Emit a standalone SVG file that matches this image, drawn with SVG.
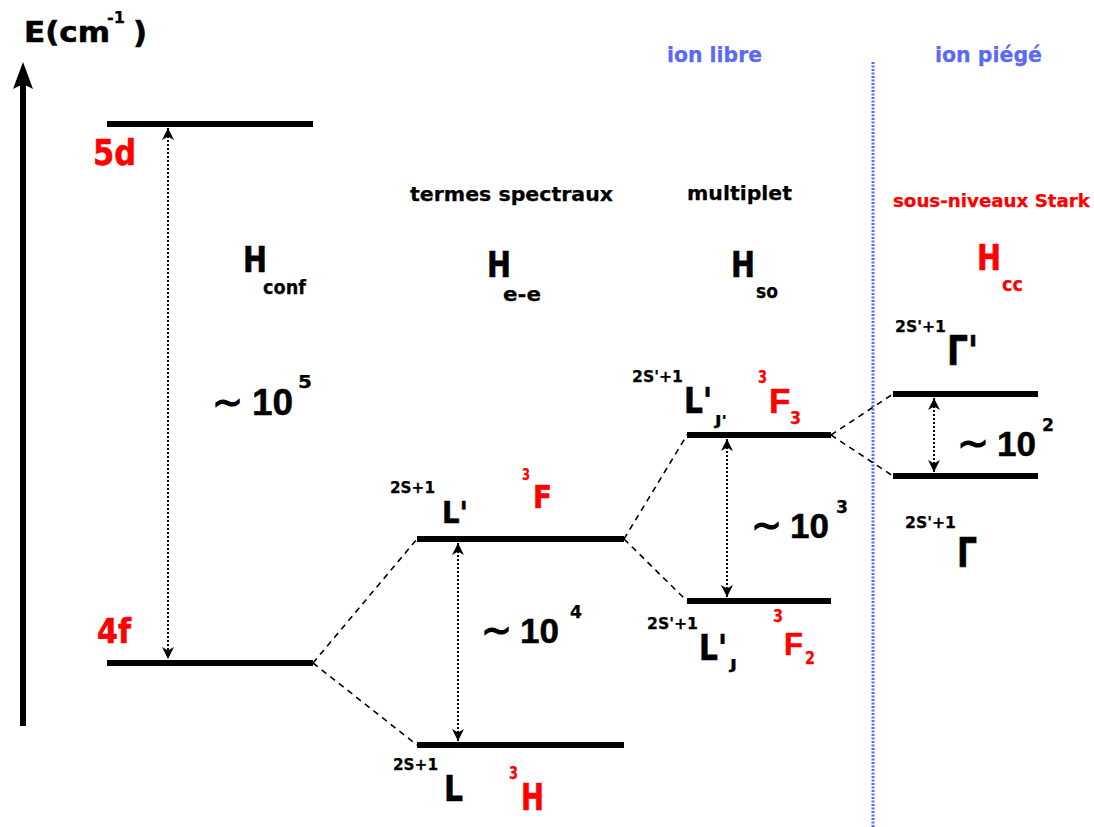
<svg xmlns="http://www.w3.org/2000/svg" width="1094" height="827" viewBox="0 0 1094 827">
<style>
text{font-family:"DejaVu Sans","Liberation Sans",sans-serif;font-weight:bold;fill:#000;stroke:#000;stroke-width:0.6}
.r{fill:#ff0000;stroke:#ff0000}
.b{fill:#5a6af5;stroke:#5a6af5}
.s{stroke-width:0.25}
.n{font-family:"Liberation Sans",Arial,sans-serif;stroke-width:0.5}
.t{font-weight:normal;stroke-width:1.2}
.lvl{stroke:#000;stroke-width:6;fill:none}
.dash{stroke:#000;stroke-width:1.6;stroke-dasharray:6 5;fill:none}
.dot{stroke:#000;stroke-width:2;stroke-dasharray:2 2;fill:none}
</style>
<defs>
<marker id="ah" viewBox="0 0 10 10" refX="10" refY="5" markerWidth="12" markerHeight="12" markerUnits="userSpaceOnUse" orient="auto-start-reverse">
<path d="M0,0 L10,5 L0,10 L3,5 z" fill="#000"/>
</marker>
</defs>
<rect width="1094" height="827" fill="#fff"/>

<g id="axis">
<line x1="23" y1="726" x2="23" y2="84" stroke="#000" stroke-width="6"/>
<path d="M23,62 L33,89 L23,84 L13,89 z" fill="#000"/>
<text x="24" y="42" font-size="29" textLength="86" lengthAdjust="spacingAndGlyphs">E(cm</text>
<text class="s" x="107" y="23" font-size="15" textLength="18" lengthAdjust="spacingAndGlyphs">-1</text>
<text x="133" y="43" font-size="30" textLength="14" lengthAdjust="spacingAndGlyphs">)</text>
</g>

<g id="separator">
<line x1="873" y1="62" x2="873" y2="827" stroke="#5a6af5" stroke-width="3" stroke-dasharray="2 1.5"/>
<text class="b s" x="667" y="62" font-size="22" textLength="95" lengthAdjust="spacingAndGlyphs">ion libre</text>
<text class="b s" x="935" y="62" font-size="22" textLength="107" lengthAdjust="spacingAndGlyphs">ion piégé</text>
</g>

<g id="connectors">
<line class="dash" x1="313" y1="663" x2="417" y2="539"/>
<line class="dash" x1="313" y1="663" x2="417" y2="745"/>
<line class="dash" x1="624" y1="539" x2="687" y2="435"/>
<line class="dash" x1="624" y1="539" x2="687" y2="601"/>
<line class="dash" x1="831" y1="435" x2="893" y2="394"/>
<line class="dash" x1="831" y1="435" x2="893" y2="476"/>
<line class="dot" x1="168" y1="128" x2="168" y2="659" marker-start="url(#ah)" marker-end="url(#ah)"/>
<line class="dot" x1="458" y1="543" x2="458" y2="741" marker-start="url(#ah)" marker-end="url(#ah)"/>
<line class="dot" x1="727" y1="439" x2="727" y2="597" marker-start="url(#ah)" marker-end="url(#ah)"/>
<line class="dot" x1="934" y1="398" x2="934" y2="472" marker-start="url(#ah)" marker-end="url(#ah)"/>
</g>

<g id="config">
<line class="lvl" x1="107" y1="124" x2="313" y2="124"/>
<line class="lvl" x1="107" y1="663" x2="313" y2="663"/>
<text class="r" x="93" y="165" font-size="36" textLength="43" lengthAdjust="spacingAndGlyphs">5d</text>
<text class="r" x="97" y="643" font-size="33" textLength="34" lengthAdjust="spacingAndGlyphs">4f</text>
<text x="243" y="272" font-size="35" textLength="24" lengthAdjust="spacingAndGlyphs">H</text>
<text class="s" x="263" y="294" font-size="20" textLength="43" lengthAdjust="spacingAndGlyphs">conf</text>
<text class="t" x="212" y="416" font-size="40" textLength="31" lengthAdjust="spacingAndGlyphs">~</text>
<text class="n" x="252" y="415" font-size="37">10</text>
<text class="s" x="298" y="388" font-size="17" textLength="14" lengthAdjust="spacingAndGlyphs">5</text>
</g>

<g id="terms">
<line class="lvl" x1="417" y1="539" x2="624" y2="539"/>
<line class="lvl" x1="417" y1="745" x2="624" y2="745"/>
<text class="s" x="410" y="201" font-size="20" textLength="203" lengthAdjust="spacingAndGlyphs">termes spectraux</text>
<text x="487" y="277" font-size="35" textLength="24" lengthAdjust="spacingAndGlyphs">H</text>
<text class="s" x="503" y="301" font-size="20" textLength="38" lengthAdjust="spacingAndGlyphs">e-e</text>
<text class="t" x="481" y="644" font-size="40" textLength="31" lengthAdjust="spacingAndGlyphs">~</text>
<text class="n" x="520" y="643" font-size="35">10</text>
<text class="s" x="570" y="618" font-size="17" textLength="12" lengthAdjust="spacingAndGlyphs">4</text>
<text class="s" x="390" y="493" font-size="16" textLength="45" lengthAdjust="spacingAndGlyphs">2S+1</text>
<text x="442" y="523" font-size="31" textLength="26" lengthAdjust="spacingAndGlyphs">L'</text>
<text class="r s" x="522" y="480" font-size="16" textLength="8" lengthAdjust="spacingAndGlyphs">3</text>
<text class="r" x="533" y="508" font-size="32" textLength="19" lengthAdjust="spacingAndGlyphs">F</text>
<text class="s" x="393" y="770" font-size="16" textLength="45" lengthAdjust="spacingAndGlyphs">2S+1</text>
<text x="444" y="801" font-size="36" textLength="19" lengthAdjust="spacingAndGlyphs">L</text>
<text class="r s" x="509" y="779" font-size="17" textLength="9" lengthAdjust="spacingAndGlyphs">3</text>
<text class="r" x="521" y="810" font-size="37" textLength="23" lengthAdjust="spacingAndGlyphs">H</text>
</g>

<g id="multiplet">
<line class="lvl" x1="687" y1="435" x2="831" y2="435"/>
<line class="lvl" x1="687" y1="601" x2="831" y2="601"/>
<text class="s" x="687" y="200" font-size="20" textLength="105" lengthAdjust="spacingAndGlyphs">multiplet</text>
<text x="731" y="277" font-size="35" textLength="24" lengthAdjust="spacingAndGlyphs">H</text>
<text class="s" x="756" y="298" font-size="20" textLength="22" lengthAdjust="spacingAndGlyphs">so</text>
<text class="t" x="751" y="539" font-size="40" textLength="31" lengthAdjust="spacingAndGlyphs">~</text>
<text class="n" x="790" y="538" font-size="35">10</text>
<text class="s" x="836" y="513" font-size="17" textLength="12" lengthAdjust="spacingAndGlyphs">3</text>
<text class="s" x="632" y="382" font-size="16" textLength="51" lengthAdjust="spacingAndGlyphs">2S'+1</text>
<text x="684" y="413" font-size="35" textLength="28" lengthAdjust="spacingAndGlyphs">L'</text>
<text class="s" x="715" y="425" font-size="14" textLength="12" lengthAdjust="spacingAndGlyphs">J'</text>
<text class="r s" x="758" y="383" font-size="17" textLength="9" lengthAdjust="spacingAndGlyphs">3</text>
<text class="r n" x="769" y="413" font-size="35">F</text>
<text class="r s" x="790" y="424" font-size="17" textLength="11" lengthAdjust="spacingAndGlyphs">3</text>
<text class="s" x="647" y="629" font-size="16" textLength="51" lengthAdjust="spacingAndGlyphs">2S'+1</text>
<text x="699" y="660" font-size="35" textLength="28" lengthAdjust="spacingAndGlyphs">L'</text>
<text class="s" x="730" y="669" font-size="14" textLength="7" lengthAdjust="spacingAndGlyphs">J</text>
<text class="r s" x="773" y="622" font-size="17" textLength="10" lengthAdjust="spacingAndGlyphs">3</text>
<text class="r n" x="784" y="655" font-size="31">F</text>
<text class="r s" x="805" y="664" font-size="17" textLength="10" lengthAdjust="spacingAndGlyphs">2</text>
</g>

<g id="stark">
<line class="lvl" x1="893" y1="394" x2="1038" y2="394"/>
<line class="lvl" x1="893" y1="476" x2="1038" y2="476"/>
<text class="r s" x="893" y="207" font-size="17" textLength="197" lengthAdjust="spacingAndGlyphs">sous-niveaux Stark</text>
<text class="r" x="977" y="270" font-size="35" textLength="24" lengthAdjust="spacingAndGlyphs">H</text>
<text class="r s" x="1002" y="291" font-size="19" textLength="21" lengthAdjust="spacingAndGlyphs">cc</text>
<text class="t" x="957" y="457" font-size="40" textLength="32" lengthAdjust="spacingAndGlyphs">~</text>
<text class="n" x="997" y="456" font-size="35">10</text>
<text class="s" x="1042" y="431" font-size="17" textLength="12" lengthAdjust="spacingAndGlyphs">2</text>
<text class="s" x="895" y="332" font-size="16" textLength="51" lengthAdjust="spacingAndGlyphs">2S'+1</text>
<text x="947" y="365" font-size="41" textLength="31" lengthAdjust="spacingAndGlyphs">Γ'</text>
<text class="s" x="905" y="528" font-size="16" textLength="51" lengthAdjust="spacingAndGlyphs">2S'+1</text>
<text x="957" y="567" font-size="41" textLength="20" lengthAdjust="spacingAndGlyphs">Γ</text>
</g>
</svg>
